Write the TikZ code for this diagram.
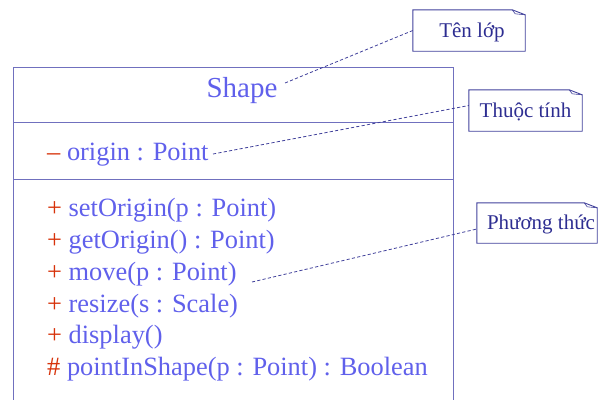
\documentclass[tikz,border=0pt]{standalone}
\usepackage{fontspec}
\setmainfont{Liberation Serif}
\definecolor{clstext}{RGB}{96,96,235}
\definecolor{clsline}{RGB}{112,112,190}
\definecolor{notetext}{RGB}{45,45,145}
\definecolor{noteline}{RGB}{65,65,155}
\definecolor{vis}{RGB}{215,50,10}
\tikzset{
  member/.style={anchor=base west, inner sep=0pt, text=clstext, font=\fontsize{26.4}{26.4}\selectfont},
  notebox/.style={inner sep=0pt},
  notelabel/.style={anchor=base, inner sep=0pt, text=notetext, font=\fontsize{21}{21}\selectfont},
  link/.style={draw=noteline, dash pattern=on 3.2pt off 2.2pt, line width=0.8pt},
}
\newcommand{\notedraw}[1]{%
  \draw[noteline, line width=0.9pt] (#1.north west) -- ([xshift=-13pt]#1.north east) -- ([yshift=-5pt]#1.north east) -- (#1.south east) -- (#1.south west) -- cycle;
  \draw[noteline, line width=0.6pt] ([xshift=-13pt]#1.north east) -- ([xshift=-10pt,yshift=-4pt]#1.north east) -- ([yshift=-5pt]#1.north east);
}
\begin{document}
\begin{tikzpicture}[x=1pt,y=-1pt]
\useasboundingbox (0,0) rectangle (599,399);
% class box
\draw[clsline, line width=0.9pt] (13,410) -- (13,67) -- (453,67) -- (453,410);
\draw[clsline, line width=0.9pt] (13,122) -- (453,122);
\draw[clsline, line width=0.9pt] (13,179) -- (453,179);
% texts
\node[member, anchor=base, font=\fontsize{29}{29}\selectfont] (shape) at (242,97.5) {Shape};
\node[member] (origin) at (47,160) {{\color{vis}–} origin : Point};
\node[member] (m1) at (47,216.5) {{\color{vis}+} setOrigin(p : Point)};
\node[member] (m2) at (47,248) {{\color{vis}+} getOrigin() : Point)};
\node[member] (m3) at (47,280) {{\color{vis}+} move(p : Point)};
\node[member] (m4) at (47,312) {{\color{vis}+} resize(s : Scale)};
\node[member] (m5) at (47,343.5) {{\color{vis}+} display()};
\node[member] (m6) at (47,375) {{\color{vis}\#} pointInShape(p : Point) : Boolean};
% notes
\node[notebox, minimum width=112pt, minimum height=41pt] (n1) at (469,30.5) {};
\node[notelabel] (t1) at (472,37) {Tên lớp};
\node[notebox, minimum width=113pt, minimum height=41pt] (n2) at (525.5,110.5) {};
\node[notelabel] (t2) at (525.5,117) {Thuộc tính};
\node[notebox, minimum width=120pt, minimum height=40pt] (n3) at (537,223) {};
\node[notelabel] (t3) at (541,229) {Phương thức};
\notedraw{n1}
\notedraw{n2}
\notedraw{n3}
% connectors
\coordinate (c1) at (285,83);
\coordinate (c2) at (213,154);
\coordinate (c3) at (252,282);
\draw[link] (c1) -- (n1.west);
\draw[link] (c2) -- ([yshift=5pt]n2.west);
\draw[link] (c3) -- ([yshift=-6pt]n3.west);
\end{tikzpicture}
\end{document}
